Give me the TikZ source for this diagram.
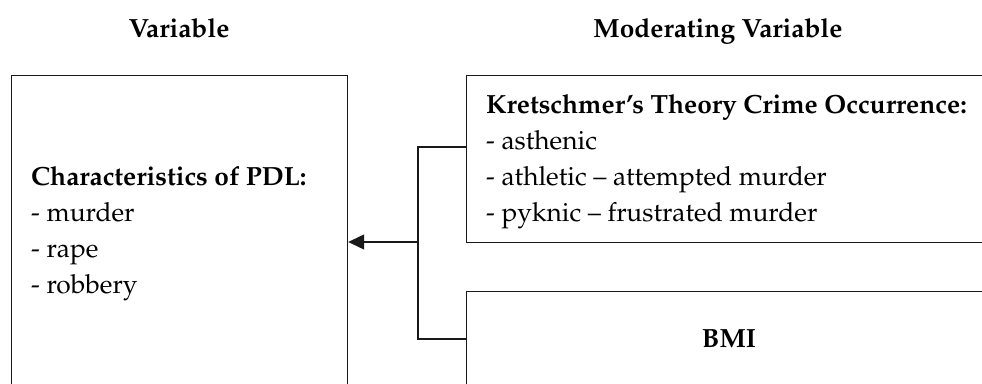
\documentclass[tikz,border=0pt]{standalone}
\usepackage[T1]{fontenc}
\usepackage{mathpazo}
\usetikzlibrary{arrows.meta}
\begin{document}
\begin{tikzpicture}[x=1pt,y=-1pt,
  box/.style={draw=black!90,line width=1.2pt,anchor=north west,inner sep=0pt},
  txt/.style={anchor=base west,align=left,inner sep=0pt,font=\fontsize{26.3}{36}\selectfont},
  head/.style={anchor=base,inner sep=0pt,font=\fontsize{26.3}{36}\selectfont\bfseries},
  conn/.style={draw=black!90,line width=1.2pt}]
\useasboundingbox (0,0) rectangle (982,383);
\clip (0,0) rectangle (982,383);
\node[head] (hv) at (179,37) {Variable};
\node[head] (hm) at (718,37) {Moderating Variable};
\node[box,minimum width=336pt,minimum height=400pt] (pdl) at (11,75) {};
\node[box,minimum width=600pt,minimum height=167pt] (kre) at (466,75) {};
\node[box,minimum width=600pt,minimum height=200pt] (bmi) at (466,291) {};
\node[txt] (pdlt) at (31,293) {\textbf{Characteristics of PDL:}\\- murder\\- rape\\- robbery};
\node[txt] (kret) at (486,221) {\textbf{Kretschmer's Theory Crime Occurrence:}\\- asthenic\\- athletic -- attempted murder\\- pyknic -- frustrated murder};
\node[head] (bmit) at (729,347) {BMI};
\coordinate (bt) at (466,147);
\coordinate (bb) at (466,339);
\coordinate (jn) at (418,242);
\draw[conn] (bt) -| (jn) |- (bb);
\draw[conn,-{Triangle[length=16pt,width=15pt]}] (jn) -- (pdl.east |- jn);
\end{tikzpicture}
\end{document}
